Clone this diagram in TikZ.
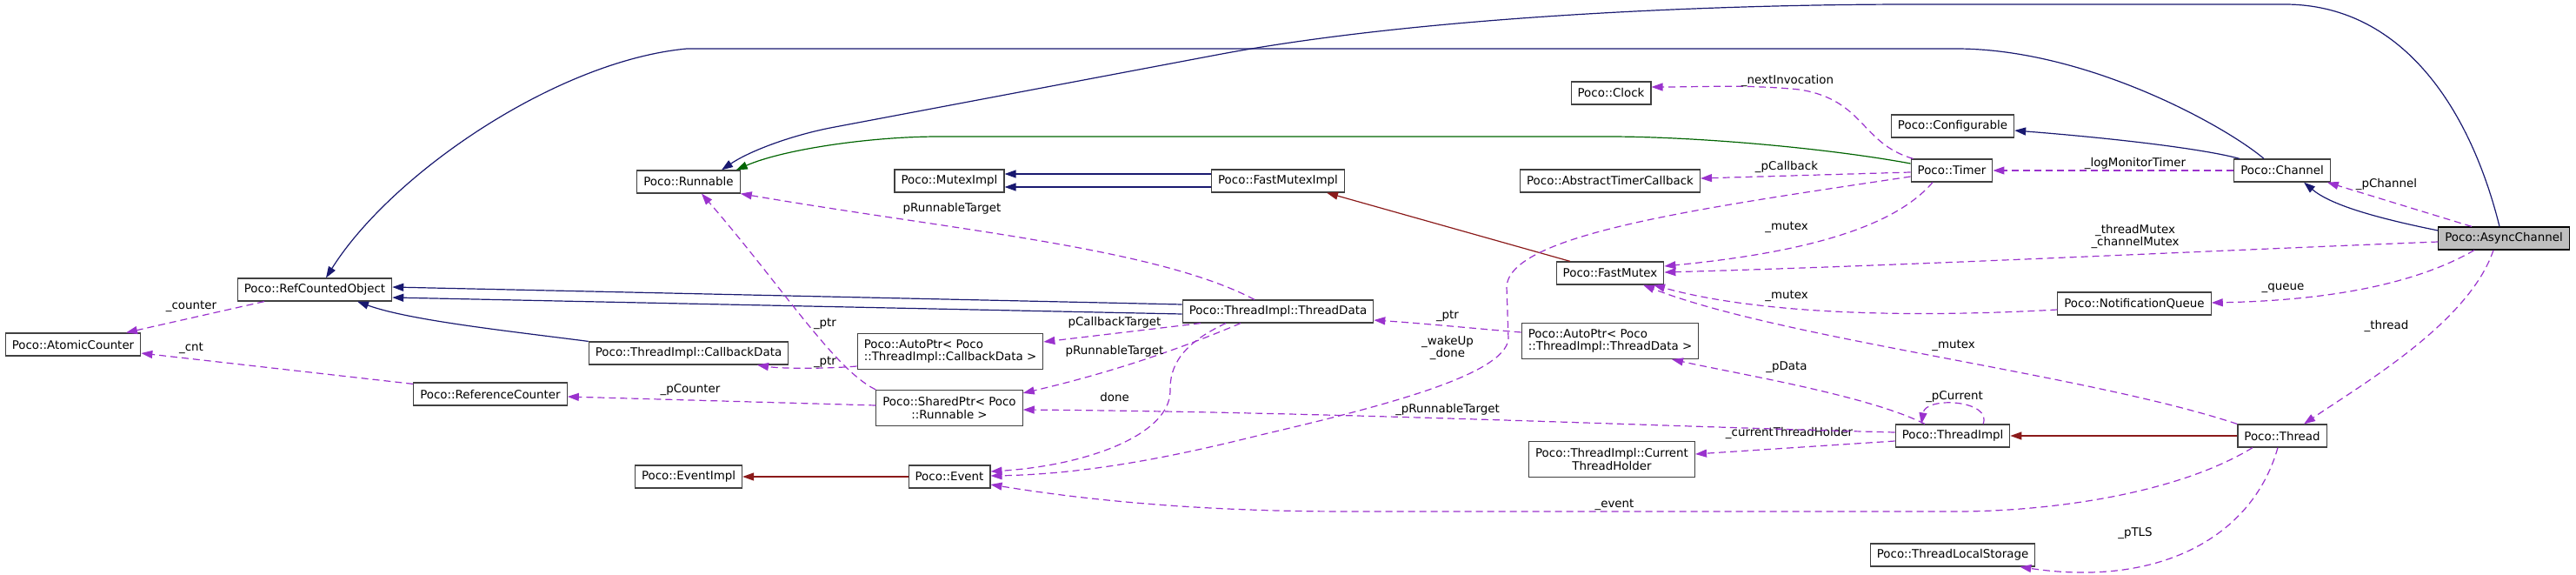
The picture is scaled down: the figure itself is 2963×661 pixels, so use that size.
\documentclass[tikz,border=0pt]{standalone}
\usepackage{fontspec}
\setmainfont{DejaVu Sans}
\usepackage{tikz}
\usetikzlibrary{arrows.meta}

\definecolor{inhblue}{RGB}{25,25,112}
\definecolor{protgreen}{RGB}{0,100,0}
\definecolor{privred}{RGB}{139,26,26}
\definecolor{usepurple}{RGB}{154,50,205}
\definecolor{boxedge}{RGB}{64,64,64}
\definecolor{focusfill}{RGB}{191,191,191}

\begin{document}
\begin{tikzpicture}[
    x=1pt, y=-1pt,
    font=\fontsize{13.4}{14.5}\selectfont,
    cls/.style={draw=boxedge, fill=white, line width=1.2pt, minimum height=26pt, inner xsep=7.5pt, inner ysep=2pt},
    cls2/.style={cls, minimum height=41pt, align=left},
    cls2c/.style={cls, minimum height=41pt, align=center},
    focus/.style={cls, draw=black, fill=focusfill},
    tip/.style={-{Triangle[length=13pt,width=9pt]}},
    pub/.style={tip, draw=inhblue, line width=1.2pt},
    prot/.style={tip, draw=protgreen, line width=1.2pt},
    priv/.style={tip, draw=privred, line width=1.2pt},
    use/.style={tip, draw=usepurple, line width=1.2pt, dash pattern=on 8pt off 5pt},
    lbl/.style={inner sep=0pt, align=center}
]
\useasboundingbox (0,0) rectangle (2963,661);

\node[cls] (atomic) at (84,396) {Poco::AtomicCounter};
\node[cls] (refobj) at (362,333) {Poco::RefCountedObject};
\node[cls] (refcnt) at (564,453) {Poco::ReferenceCounter};
\node[cls] (runnable) at (792,209) {Poco::Runnable};
\node[cls] (cbdata) at (792,406) {Poco::ThreadImpl::CallbackData};
\node[cls] (evimpl) at (792,548) {Poco::EventImpl};
\node[cls] (mtximpl) at (1092,208) {Poco::MutexImpl};
\node[cls2] (cbptr) at (1093,404) {Poco::AutoPtr< Poco\\::ThreadImpl::CallbackData >};
\node[cls2c] (runptr) at (1092,469) {Poco::SharedPtr< Poco\\::Runnable >};
\node[cls] (event) at (1092,548) {Poco::Event};
\node[cls] (fmtximpl) at (1470,208) {Poco::FastMutexImpl};
\node[cls] (tdata) at (1470,358) {Poco::ThreadImpl::ThreadData};
\node[cls] (clock) at (1853,107) {Poco::Clock};
\node[cls] (tcallback) at (1852,208) {Poco::AbstractTimerCallback};
\node[cls] (fmutex) at (1852,314) {Poco::FastMutex};
\node[cls2] (tdptr) at (1852,392) {Poco::AutoPtr< Poco\\::ThreadImpl::ThreadData >};
\node[cls2c] (holder) at (1854,528) {Poco::ThreadImpl::Current\\ThreadHolder};
\node[cls] (config) at (2246,145) {Poco::Configurable};
\node[cls] (timer) at (2245,196) {Poco::Timer};
\node[cls] (nqueue) at (2455,349) {Poco::NotificationQueue};
\node[cls] (timpl) at (2246,501) {Poco::ThreadImpl};
\node[cls] (tls) at (2246,638) {Poco::ThreadLocalStorage};
\node[cls] (channel) at (2625,196) {Poco::Channel};
\node[cls] (thread) at (2625,501) {Poco::Thread};
\node[focus] (achannel) at (2880,274) {Poco::AsyncChannel};

% inheritance
\draw[pub] ([xshift=-5pt]achannel.north) .. controls (2840,120) and (2760,5) .. (2628,5) -- (2200,5) .. controls (1950,5) and (1622,21) .. (1400,63) -- (955,147) .. controls (905,157) and (860,175) .. ([xshift=38pt]runnable.north);
\draw[pub] ([xshift=-21pt]channel.north) .. controls (2560,145) and (2400,56) .. (2250,56) -- (790,56) .. controls (640,70) and (450,200) .. ([xshift=13pt]refobj.north);
\draw[pub] ([yshift=9pt]achannel.west) .. controls (2730,250) and (2680,235) .. ([xshift=25pt]channel.south);
\draw[pub] ([xshift=-49pt]channel.north) .. controls (2530,170) and (2420,158) .. ([yshift=-5pt]config.east);
\draw[pub] ([yshift=8pt]tdata.west) -- ([yshift=3pt]refobj.east);
\draw[pub] ([yshift=-3pt]tdata.west) -- ([yshift=-9pt]refobj.east);
\draw[pub] (cbdata.north west) .. controls (580,380) and (470,368) .. ([xshift=49pt]refobj.south);
\draw[pub] ([yshift=8pt]fmtximpl.west) -- ([yshift=8pt]mtximpl.east);
\draw[pub] ([yshift=-7pt]fmtximpl.west) -- ([yshift=-7pt]mtximpl.east);
\draw[prot] ([yshift=8pt]timer.west) .. controls (2100,170) and (1950,157) .. (1850,157) -- (1080,157) .. controls (1000,157) and (900,172) .. ([xshift=-5pt]runnable.north east);
\draw[priv] (thread.west) -- (timpl.east);
\draw[priv] (event.west) -- (evimpl.east);
\draw[priv] ([xshift=-46pt]fmutex.north) -- ([xshift=56pt]fmtximpl.south);

% members
\draw[use] ([xshift=-37pt]achannel.north) -- ([xshift=-4pt]channel.south east) node[lbl] at (2745,212) {\_pChannel};
\draw[use] (channel.west) -- (timer.east) node[lbl] at (2456,188) {\_logMonitorTimer};
\draw[use] ([xshift=3pt]timer.north west) .. controls (2140,165) and (2145,115) .. (2070,103) .. controls (2010,97) and (1960,100) .. ([yshift=7pt]clock.east) node[lbl] at (2056,93) {\_nextInvocation};
\draw[use] ([yshift=-2pt]timer.west) -- ([yshift=3pt]tcallback.east) node[lbl] at (2055,192) {\_pCallback};
\draw[use] ([xshift=-22pt]timer.south) .. controls (2180,260) and (2080,290) .. ([yshift=8pt]fmutex.east) node[lbl] at (2055,261) {\_mutex};
\draw[use] ([yshift=-4pt]achannel.west) .. controls (2500,290) and (2200,305) .. ([yshift=1pt]fmutex.east) node[lbl] at (2456,272) {\_threadMutex\\\_channelMutex};
\draw[use] ([xshift=-34pt]achannel.south) .. controls (2790,320) and (2700,345) .. ([yshift=1pt]nqueue.east) node[lbl] at (2626,331) {\_queue};
\draw[use] ([yshift=-7pt]nqueue.west) .. controls (2150,368) and (2000,355) .. ([xshift=50pt]fmutex.south) node[lbl] at (2055,340) {\_mutex};
\draw[use] ([xshift=-12pt]achannel.south) .. controls (2840,370) and (2720,440) .. ([xshift=25pt]thread.north) node[lbl] at (2745,375) {\_thread};
\draw[use] (thread.north west) .. controls (2400,430) and (2050,390) .. ([xshift=38pt]fmutex.south) node[lbl] at (2247,397) {\_mutex};
\draw[use] ([xshift=35pt]timpl.north) .. controls (2292,460) and (2215,455) .. ([xshift=-36pt]timpl.north) node[lbl] at (2248,456) {\_pCurrent};
\draw[use] ([xshift=-32pt]timpl.north) .. controls (2150,455) and (2000,430) .. ([xshift=71pt]tdptr.south) node[lbl] at (2055,422) {\_pData};
\draw[use] ([yshift=10pt]tdptr.west) .. controls (1700,378) and (1640,372) .. ([yshift=-10pt]tdata.east) node[lbl] at (1665,363) {\_ptr};
\draw[use] ([yshift=-6pt]timpl.west) -- ([yshift=6pt]holder.east) node[lbl] at (2058,498) {\_currentThreadHolder};
\draw[use] ([yshift=4pt]timpl.west) .. controls (1900,490) and (1550,474) .. ([yshift=-2pt]runptr.east) node[lbl] at (1665,471) {\_pRunnableTarget};
\draw[use] ([xshift=-34pt]thread.south) .. controls (2500,570) and (2350,588) .. (2250,588) -- (1550,588) .. controls (1380,588) and (1250,575) .. ([yshift=-9pt]event.east) node[lbl] at (1857,580) {\_event};
\draw[use] ([xshift=-5pt]thread.south) .. controls (2590,620) and (2480,675) .. ([xshift=-18pt]tls.south east) node[lbl] at (2456,613) {\_pTLS};
\draw[use] ([yshift=-7pt]timer.west) .. controls (1950,240) and (1735,270) .. (1733,330) -- (1735,390) .. controls (1730,430) and (1600,465) .. (1450,500) .. controls (1350,525) and (1250,545) .. ([yshift=1pt]event.east) node[lbl] at (1665,400) {\_wakeUp\\\_done};
\draw[use] ([xshift=-60pt]tdata.south) .. controls (1360,395) and (1345,420) .. (1346,450) .. controls (1345,500) and (1250,535) .. ([yshift=6pt]event.east) node[lbl] at (1282,456) {done};
\draw[use] ([xshift=-43pt]tdata.south) .. controls (1360,400) and (1280,428) .. ([yshift=-4pt]runptr.north east) node[lbl] at (1282,404) {pRunnableTarget};
\draw[use] ([xshift=-89pt]tdata.south) -- ([yshift=11pt]cbptr.east) node[lbl] at (1282,371) {pCallbackTarget};
\draw[use] ([xshift=-27pt]tdata.north) .. controls (1330,285) and (1100,265) .. (runnable.south east) node[lbl] at (1095,240) {pRunnableTarget};
\draw[use] ([yshift=-17pt]cbptr.west) .. controls (950,424) and (900,424) .. ([xshift=79pt]cbdata.south) node[lbl] at (949,416) {\_ptr};
\draw[use] (runptr.north west) .. controls (960,425) and (900,330) .. ([xshift=15pt]runnable.south) node[lbl] at (949,372) {\_ptr};
\draw[use] ([yshift=3pt]runptr.west) -- ([yshift=-3pt]refcnt.east) node[lbl] at (794,448) {\_pCounter};
\draw[use] ([xshift=-58pt]refobj.south) -- ([xshift=61pt]atomic.north) node[lbl] at (220,352) {\_counter};
\draw[use] ([yshift=-2pt]refcnt.north west) -- ([yshift=-10pt]atomic.east) node[lbl] at (220,400) {\_cnt};
\end{tikzpicture}
\end{document}
